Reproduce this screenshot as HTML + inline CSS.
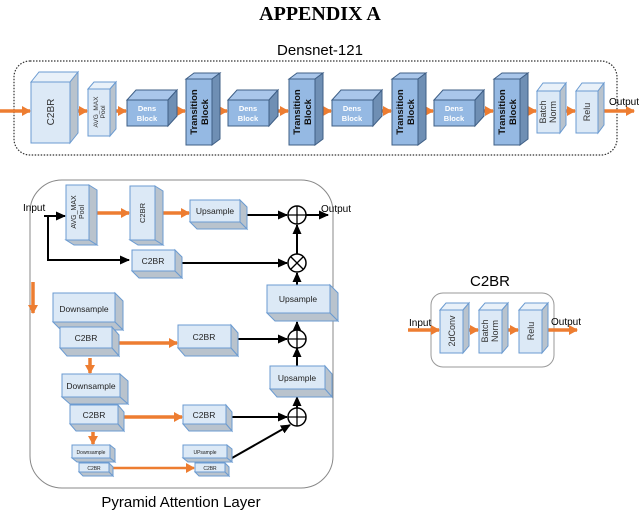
<!DOCTYPE html>
<html><head><meta charset="utf-8"><style>
html,body{margin:0;padding:0;background:#fff;}
svg{display:block;font-family:"Liberation Sans",sans-serif;}
.l{fill:#dce9f6;stroke:#6b9bd1;stroke-width:1}
.ls{fill:#b9c3cd;stroke:#6b9bd1;stroke-width:1}
.lt{fill:#e9f1f9;stroke:#6b9bd1;stroke-width:1}
.m{fill:#95b9e3;stroke:#3f5f86;stroke-width:1}
.ms{fill:#6f8fb4;stroke:#3f5f86;stroke-width:1}
.mt{fill:#a9c6ea;stroke:#3f5f86;stroke-width:1}
.o{stroke:#ed7d31;stroke-width:3.5;fill:none}
.b{stroke:#000;stroke-width:2;fill:none}
</style></head><body>
<svg width="640" height="511" viewBox="0 0 640 511" xmlns="http://www.w3.org/2000/svg">
<defs>
<marker id="oa" markerUnits="userSpaceOnUse" markerWidth="10" markerHeight="10" refX="8" refY="5" orient="auto"><path d="M0,0 L9,5 L0,10 z" fill="#ed7d31"/></marker>
<marker id="ba" markerUnits="userSpaceOnUse" markerWidth="10" markerHeight="10" refX="9" refY="5" orient="auto"><path d="M0,0.5 L10,5 L0,9.5 z" fill="#000"/></marker>
</defs>
<text x="320" y="20" text-anchor="middle" font-family="Liberation Serif" font-weight="bold" font-size="20">APPENDIX A</text>
<text x="320" y="55" text-anchor="middle" font-size="15">Densnet-121</text>
<rect x="14" y="61" width="603" height="94" rx="16" fill="none" stroke="#333" stroke-width="1.2" stroke-dasharray="1.5,1.5"/>

<!-- top arrows -->
<g class="o" marker-end="url(#oa)">
<line x1="0" y1="111" x2="30" y2="111"/><line x1="78" y1="111" x2="87" y2="111"/><line x1="116" y1="111" x2="126" y2="111"/>
<line x1="177" y1="111" x2="185" y2="111"/><line x1="220" y1="111" x2="227" y2="111"/><line x1="278" y1="111" x2="288" y2="111"/>
<line x1="323" y1="111" x2="331" y2="111"/><line x1="382" y1="111" x2="391" y2="111"/><line x1="426" y1="111" x2="433" y2="111"/>
<line x1="484" y1="111" x2="493" y2="111"/><line x1="528" y1="111" x2="536" y2="111"/><line x1="566" y1="111" x2="575" y2="111"/>
<line x1="604" y1="111" x2="634" y2="111"/>
</g>
<text x="609" y="105" font-size="10">Output</text>

<!-- top boxes -->
<rect class="l" x="31" y="82" width="39" height="61"/><polygon class="lt" points="31,82 39,72 78,72 70,82"/><polygon class="ls" points="70,82 78,72 78,133 70,143"/>
<text transform="translate(54,112) rotate(-90)" text-anchor="middle" font-size="10" fill="#333">C2BR</text>
<rect class="l" x="88" y="89" width="22" height="47"/><polygon class="lt" points="88,89 94,82 116,82 110,89"/><polygon class="ls" points="110,89 116,82 116,129 110,136"/>
<text transform="translate(98,112) rotate(-90)" text-anchor="middle" font-size="6.5" fill="#333">AVG_MAX</text>
<text transform="translate(105,112) rotate(-90)" text-anchor="middle" font-size="6.5" fill="#333">Pool</text>

<g>
<rect class="m" x="127" y="100" width="41" height="26"/><polygon class="mt" points="127,100 136,90 177,90 168,100"/><polygon class="ms" points="168,100 177,90 177,116 168,126"/>
<rect class="m" x="228" y="100" width="41" height="26"/><polygon class="mt" points="228,100 237,90 278,90 269,100"/><polygon class="ms" points="269,100 278,90 278,116 269,126"/>
<rect class="m" x="332" y="100" width="41" height="26"/><polygon class="mt" points="332,100 341,90 382,90 373,100"/><polygon class="ms" points="373,100 382,90 382,116 373,126"/>
<rect class="m" x="434" y="100" width="41" height="26"/><polygon class="mt" points="434,100 443,90 484,90 475,100"/><polygon class="ms" points="475,100 484,90 484,116 475,126"/>
</g>
<g font-size="7.5" font-weight="bold" fill="#fff" text-anchor="middle">
<text x="147" y="111">Dens</text><text x="147" y="121">Block</text>
<text x="248" y="111">Dens</text><text x="248" y="121">Block</text>
<text x="352" y="111">Dens</text><text x="352" y="121">Block</text>
<text x="454" y="111">Dens</text><text x="454" y="121">Block</text>
</g>
<g>
<rect class="m" x="186" y="79" width="26" height="66"/><polygon class="mt" points="186,79 194,73 220,73 212,79"/><polygon class="ms" points="212,79 220,73 220,139 212,145"/>
<rect class="m" x="289" y="79" width="26" height="66"/><polygon class="mt" points="289,79 297,73 323,73 315,79"/><polygon class="ms" points="315,79 323,73 323,139 315,145"/>
<rect class="m" x="392" y="79" width="26" height="66"/><polygon class="mt" points="392,79 400,73 426,73 418,79"/><polygon class="ms" points="418,79 426,73 426,139 418,145"/>
<rect class="m" x="494" y="79" width="26" height="66"/><polygon class="mt" points="494,79 502,73 528,73 520,79"/><polygon class="ms" points="520,79 528,73 528,139 520,145"/>
</g>
<g font-size="9.5" font-weight="bold" fill="#111" text-anchor="middle">
<text transform="translate(197,112) rotate(-90)">Transition</text><text transform="translate(208,112) rotate(-90)">Block</text>
<text transform="translate(300,112) rotate(-90)">Transition</text><text transform="translate(311,112) rotate(-90)">Block</text>
<text transform="translate(403,112) rotate(-90)">Transition</text><text transform="translate(414,112) rotate(-90)">Block</text>
<text transform="translate(505,112) rotate(-90)">Transition</text><text transform="translate(516,112) rotate(-90)">Block</text>
</g>
<rect class="l" x="537" y="91" width="23" height="42"/><polygon class="lt" points="537,91 543,83 566,83 560,91"/><polygon class="ls" points="560,91 566,83 566,125 560,133"/>
<rect class="l" x="576" y="91" width="22" height="42"/><polygon class="lt" points="576,91 582,83 604,83 598,91"/><polygon class="ls" points="598,91 604,83 604,125 598,133"/>
<g font-size="9" fill="#333" text-anchor="middle">
<text transform="translate(546,112) rotate(-90)">Batch</text><text transform="translate(556,112) rotate(-90)">Norm</text>
<text transform="translate(590,112) rotate(-90)">Relu</text>
</g>

<!-- Pyramid -->
<rect x="30" y="180" width="303" height="308" rx="32" fill="none" stroke="#888" stroke-width="1"/>
<text x="181" y="507" text-anchor="middle" font-size="15">Pyramid Attention Layer</text>
<text x="23" y="211" font-size="10">Input</text>
<text x="321" y="212" font-size="10">Output</text>

<g class="b">
<polyline points="48,216 48,260 129,260" marker-end="url(#ba)"/>
<line x1="44" y1="216" x2="65" y2="216" marker-end="url(#ba)"/>
<line x1="240" y1="215" x2="287" y2="215" marker-end="url(#ba)"/>
<line x1="306" y1="215" x2="328" y2="215" marker-end="url(#ba)"/>
<line x1="182" y1="263" x2="287" y2="263" marker-end="url(#ba)"/>
<line x1="297" y1="254" x2="297" y2="225" marker-end="url(#ba)"/>
<line x1="297" y1="285" x2="297" y2="273" marker-end="url(#ba)"/>
<line x1="297" y1="330" x2="297" y2="322" marker-end="url(#ba)"/>
<line x1="235" y1="339" x2="287" y2="339" marker-end="url(#ba)"/>
<line x1="297" y1="366" x2="297" y2="348" marker-end="url(#ba)"/>
<line x1="297" y1="408" x2="297" y2="397" marker-end="url(#ba)"/>
<line x1="228" y1="417" x2="287" y2="417" marker-end="url(#ba)"/>
<line x1="232" y1="458" x2="290" y2="425" marker-end="url(#ba)"/>
</g>
<g stroke="#000" stroke-width="1.5" fill="#fff">
<circle cx="297" cy="215" r="9"/><circle cx="297" cy="263" r="9"/><circle cx="297" cy="339" r="9"/><circle cx="297" cy="417" r="9"/>
</g>
<g stroke="#000" stroke-width="1.3">
<line x1="288" y1="215" x2="306" y2="215"/><line x1="297" y1="206" x2="297" y2="224"/>
<line x1="291" y1="257" x2="303" y2="269"/><line x1="303" y1="257" x2="291" y2="269"/>
<line x1="288" y1="339" x2="306" y2="339"/><line x1="297" y1="330" x2="297" y2="348"/>
<line x1="288" y1="417" x2="306" y2="417"/><line x1="297" y1="408" x2="297" y2="426"/>
</g>
<g class="o" marker-end="url(#oa)">
<line x1="97" y1="213" x2="129" y2="213"/><line x1="163" y1="213" x2="189" y2="213"/>
<line x1="33" y1="282" x2="33" y2="313"/>
<line x1="119" y1="343" x2="177" y2="343"/>
<line x1="90" y1="358" x2="90" y2="373"/>
<line x1="124" y1="417" x2="182" y2="417"/>
<line x1="93" y1="432" x2="93" y2="444"/>
<line x1="113" y1="468" x2="194" y2="468" style="stroke-width:2.5"/>
</g>

<!-- pyramid boxes -->
<rect class="l" x="66" y="185" width="23" height="55"/><polygon class="ls" points="89,185 97,190 97,245 89,240"/><polygon class="ls" points="66,240 89,240 97,245 74,245"/>
<rect class="l" x="130" y="186" width="25" height="54"/><polygon class="ls" points="155,186 163,191 163,245 155,240"/><polygon class="ls" points="130,240 155,240 163,245 138,245"/>
<rect class="l" x="190" y="200" width="50" height="22"/><polygon class="ls" points="240,200 247,207 247,229 240,222"/><polygon class="ls" points="190,222 240,222 247,229 197,229"/>
<rect class="l" x="132" y="250" width="43" height="21"/><polygon class="ls" points="175,250 182,257 182,278 175,271"/><polygon class="ls" points="132,271 175,271 182,278 139,278"/>
<rect class="l" x="267" y="285" width="63" height="28"/><polygon class="ls" points="330,285 338,293 338,321 330,313"/><polygon class="ls" points="267,313 330,313 338,321 275,321"/>
<rect class="l" x="53" y="293" width="62" height="29"/><polygon class="ls" points="115,293 123,301 123,330 115,322"/><polygon class="ls" points="53,322 115,322 123,330 61,330"/>
<rect class="l" x="60" y="327" width="52" height="21"/><polygon class="ls" points="112,327 119,335 119,356 112,348"/><polygon class="ls" points="60,348 112,348 119,356 67,356"/>
<rect class="l" x="178" y="325" width="53" height="23"/><polygon class="ls" points="231,325 238,333 238,356 231,348"/><polygon class="ls" points="178,348 231,348 238,356 185,356"/>
<rect class="l" x="62" y="374" width="58" height="23"/><polygon class="ls" points="120,374 128,381 128,404 120,397"/><polygon class="ls" points="62,397 120,397 128,404 70,404"/>
<rect class="l" x="70" y="405" width="48" height="19"/><polygon class="ls" points="118,405 124,412 124,431 118,424"/><polygon class="ls" points="70,424 118,424 124,431 76,431"/>
<rect class="l" x="183" y="405" width="43" height="19"/><polygon class="ls" points="226,405 232,412 232,431 226,424"/><polygon class="ls" points="183,424 226,424 232,431 189,431"/>
<rect class="l" x="270" y="366" width="55" height="23"/><polygon class="ls" points="325,366 332,374 332,397 325,389"/><polygon class="ls" points="270,389 325,389 332,397 277,397"/>
<rect class="l" x="72" y="445" width="38" height="13"/><polygon class="ls" points="110,445 115,449 115,462 110,458"/><polygon class="ls" points="72,458 110,458 115,462 77,462"/>
<rect class="l" x="79" y="463" width="30" height="9"/><polygon class="ls" points="109,463 113,467 113,476 109,472"/><polygon class="ls" points="79,472 109,472 113,476 83,476"/>
<rect class="l" x="183" y="445" width="44" height="13"/><polygon class="ls" points="227,445 232,449 232,462 227,458"/><polygon class="ls" points="183,458 227,458 232,462 188,462"/>
<rect class="l" x="195" y="463" width="30" height="9"/><polygon class="ls" points="225,463 229,467 229,476 225,472"/><polygon class="ls" points="195,472 225,472 229,476 199,476"/>

<g fill="#222" text-anchor="middle">
<text transform="translate(76,212) rotate(-90)" font-size="7">AVG_MAX</text><text transform="translate(84,212) rotate(-90)" font-size="7">Pool</text>
<text transform="translate(145,213) rotate(-90)" font-size="7.5">C2BR</text>
<text x="215" y="214" font-size="8.5">Upsample</text>
<text x="153" y="264" font-size="8.5">C2BR</text>
<text x="298" y="302" font-size="8.5">Upsample</text>
<text x="84" y="312" font-size="8.5">Downsample</text>
<text x="86" y="341" font-size="8.5">C2BR</text>
<text x="204" y="340" font-size="8.5">C2BR</text>
<text x="91" y="389" font-size="8.5">Downsample</text>
<text x="94" y="418" font-size="8.5">C2BR</text>
<text x="204" y="418" font-size="8.5">C2BR</text>
<text x="297" y="381" font-size="8.5">Upsample</text>
<text x="91" y="454" font-size="5">Downsample</text>
<text x="94" y="470" font-size="5">C2BR</text>
<text x="205" y="454" font-size="5">UPsample</text>
<text x="210" y="470" font-size="5">C2BR</text>
</g>

<!-- C2BR panel -->
<text x="490" y="286" text-anchor="middle" font-size="15">C2BR</text>
<rect x="431" y="293" width="123" height="74" rx="12" fill="none" stroke="#999" stroke-width="1"/>
<g class="o" marker-end="url(#oa)">
<line x1="408" y1="330" x2="439" y2="330"/><line x1="469" y1="330" x2="478" y2="330"/><line x1="508" y1="330" x2="518" y2="330"/><line x1="548" y1="330" x2="577" y2="330"/>
</g>
<text x="409" y="326" font-size="10">Input</text>
<text x="551" y="325" font-size="10">Output</text>
<rect class="l" x="440" y="310" width="23" height="43"/><polygon class="lt" points="440,310 446,303 469,303 463,310"/><polygon class="ls" points="463,310 469,303 469,346 463,353"/>
<rect class="l" x="479" y="310" width="23" height="43"/><polygon class="lt" points="479,310 485,303 508,303 502,310"/><polygon class="ls" points="502,310 508,303 508,346 502,353"/>
<rect class="l" x="519" y="310" width="23" height="43"/><polygon class="lt" points="519,310 525,303 548,303 542,310"/><polygon class="ls" points="542,310 548,303 548,346 542,353"/>
<g font-size="9" fill="#333" text-anchor="middle">
<text transform="translate(455,331) rotate(-90)">2dConv</text>
<text transform="translate(488,331) rotate(-90)">Batch</text><text transform="translate(498,331) rotate(-90)">Norm</text>
<text transform="translate(534,331) rotate(-90)">Relu</text>
</g>
</svg>
</body></html>
